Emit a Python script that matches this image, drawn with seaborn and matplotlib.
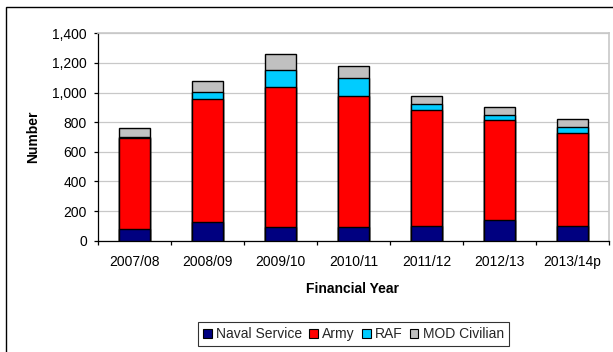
import matplotlib
matplotlib.use("Agg")
import matplotlib.pyplot as plt
from matplotlib.patches import Patch, Rectangle
from matplotlib.ticker import FuncFormatter, MultipleLocator, FixedLocator
import numpy as np
import pandas as pd
import seaborn as sns

# Casualty counts by financial year and service
years = ["2007/08", "2008/09", "2009/10", "2010/11", "2011/12", "2012/13", "2013/14p"]
naval = [80, 128, 90, 90, 99, 141, 99]
army = [610, 828, 946, 884, 785, 671, 631]
raf = [12, 45, 113, 126, 36, 34, 37]
civilian = [58, 80, 109, 80, 54, 56, 54]

series_names = ["Naval Service", "Army", "RAF", "MOD Civilian"]
colors = ["#000080", "#FF0000", "#00CCFF", "#C0C0C0"]

df = pd.DataFrame({"year": years, "Naval Service": naval, "Army": army,
                   "RAF": raf, "MOD Civilian": civilian})
cum = df[series_names].cumsum(axis=1)

sns.set_theme(style="white")
plt.rcParams["font.family"] = ["Liberation Sans", "DejaVu Sans"]

FS = 10

fig = plt.figure(figsize=(6.13, 3.52), dpi=100)
ax = fig.add_axes([98 / 613, 1 - 240.7 / 352, (609 - 98) / 613, (240.7 - 33.3) / 352])

# Stack by overdrawing cumulative totals, tallest first
for name, color in reversed(list(zip(series_names, colors))):
    sns.barplot(x=df["year"], y=cum[name], color=color, saturation=1,
                width=0.42, edgecolor="black", linewidth=1.0, ax=ax, zorder=3)

ax.set_ylim(0, 1400)
ax.set_xlim(-0.5, len(years) - 0.5)
ax.yaxis.set_major_locator(MultipleLocator(200))
ax.yaxis.set_major_formatter(FuncFormatter(lambda v, p: f"{int(v):,}"))
ax.grid(axis="y", color="#C8C8C8", linewidth=0.9, zorder=0)
ax.set_axisbelow(True)

for side in ["top", "right"]:
    ax.spines[side].set_color("#C8C8C8")
    ax.spines[side].set_linewidth(1.2)
for side in ["left", "bottom"]:
    ax.spines[side].set_color("black")
    ax.spines[side].set_linewidth(0.9)

ax.tick_params(axis="y", which="major", left=True, length=3, width=0.9,
               color="black", pad=5, labelsize=FS, labelcolor="black")
ax.tick_params(axis="x", which="major", bottom=False, length=0, pad=10,
               labelsize=FS, labelcolor="black")
ax.xaxis.set_minor_locator(FixedLocator(np.arange(-0.5, len(years), 1.0)))
ax.tick_params(axis="x", which="minor", bottom=True, length=3, width=0.9,
               color="black")

ax.set_xlabel("")
ax.set_ylabel("")
fig.text(353 / 613, 1 - 289 / 352, "Financial Year", ha="center", va="center",
         fontsize=FS, fontweight="bold", color="black")
fig.text(33 / 613, 1 - 137 / 352, "Number", ha="center", va="center",
         rotation=90, fontsize=FS, fontweight="bold", color="black")

handles = [Patch(facecolor=c, edgecolor="black", linewidth=0.8, label=n)
           for n, c in zip(series_names, colors)]
leg = fig.legend(handles=handles, loc="center", ncol=4,
                 bbox_to_anchor=(353.5 / 613, 1 - 334.3 / 352),
                 fontsize=FS, frameon=True, fancybox=False,
                 handlelength=0.6, handleheight=0.6, handletextpad=0.3,
                 columnspacing=0.55, borderpad=0.35, borderaxespad=0)
leg.get_frame().set_edgecolor("black")
leg.get_frame().set_linewidth(0.8)

# Outer chart border
fig.patches.append(Rectangle((6 / 613, -0.2), 1.0, 1 - 7 / 352 + 0.2,
                             transform=fig.transFigure, fill=False,
                             edgecolor="black", linewidth=1.0))

fig.savefig("out.png", dpi=100)
